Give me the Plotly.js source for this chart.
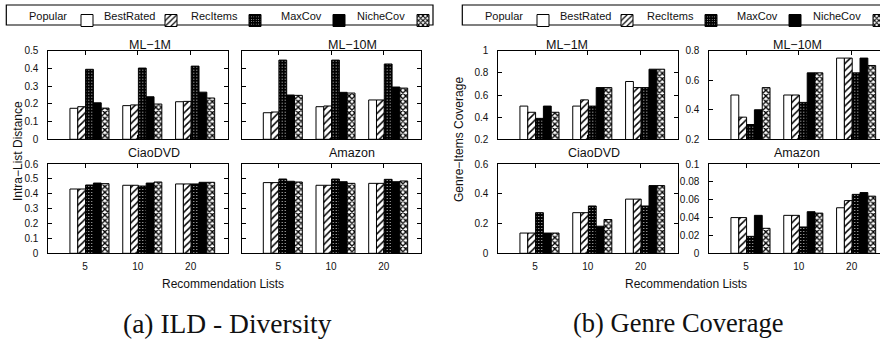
<!DOCTYPE html>
<html><head><meta charset="utf-8">
<script src="https://cdn.plot.ly/plotly-3.0.1.min.js"></script>
<style>html,body{margin:0;padding:0;overflow:hidden;background:#fff;width:880px;height:339px}</style>
</head><body><div id="chart"></div>
<script>
// ---------- data ----------
const listSizes = ['5', '10', '20'];
const methods = ['Popular', 'BestRated', 'RecItems', 'MaxCov', 'NicheCov'];

// (a) Intra-List Distance, rows = methods, cols = list sizes
const ildML1M = [
  [0.175, 0.190, 0.212],
  [0.184, 0.194, 0.214],
  [0.395, 0.402, 0.413],
  [0.206, 0.240, 0.266],
  [0.176, 0.199, 0.233]
];
const ildML10M = [
  [0.150, 0.184, 0.222],
  [0.154, 0.188, 0.222],
  [0.447, 0.447, 0.425],
  [0.250, 0.265, 0.295],
  [0.248, 0.261, 0.289]
];
const ildCiao = [
  [0.432, 0.457, 0.466],
  [0.432, 0.457, 0.466],
  [0.459, 0.452, 0.466],
  [0.472, 0.472, 0.477],
  [0.468, 0.479, 0.477]
];
const ildAmazon = [
  [0.475, 0.457, 0.470],
  [0.475, 0.457, 0.470],
  [0.499, 0.499, 0.497],
  [0.484, 0.481, 0.481],
  [0.479, 0.470, 0.486]
];
// (b) Genre-Items Coverage
const gcML1M = [
  [0.500, 0.500, 0.722],
  [0.444, 0.556, 0.667],
  [0.389, 0.500, 0.667],
  [0.500, 0.667, 0.833],
  [0.444, 0.667, 0.833]
];
const gcML10M = [
  [0.50, 0.50, 0.75],
  [0.35, 0.50, 0.75],
  [0.30, 0.45, 0.65],
  [0.40, 0.65, 0.75],
  [0.55, 0.65, 0.70]
];
const gcCiao = [
  [0.136, 0.273, 0.364],
  [0.136, 0.273, 0.364],
  [0.273, 0.318, 0.318],
  [0.136, 0.182, 0.455],
  [0.136, 0.227, 0.455]
];
const gcAmazon = [
  [0.040, 0.0425, 0.051],
  [0.040, 0.0425, 0.059],
  [0.019, 0.0295, 0.066],
  [0.0425, 0.0466, 0.068],
  [0.028, 0.045, 0.064]
];

// ---------- layout helpers ----------
const W = 960, H = 339;
const X = v => v / W;
const Y = v => 1 - v / H;
const FONT = 'Liberation Sans, Arial, Helvetica, sans-serif';

const COLS = { a: [[48.3, 227.7], [241.7, 420.7]], b: [[498.3, 677.7], [709.3, 888.7]] };
const ROWS = [[50.7, 139.3], [164, 253.3]];
const OFF = { a: 0, b: 456 };

const panels = [
  { key: 'a', legend: 'legend', ytitle: 'Intra−List Distance', ytx: 18, yty: 151, xtx: 223, cap: '(a) ILD - Diversity', capx: 227, capsize: 27.5,
    sets: [
      { title: 'ML−1M', data: ildML1M, col: 0, row: 0, range: [0, 0.5], dtick: 0.1, labels: true, tx: 150 },
      { title: 'ML−10M', data: ildML10M, col: 1, row: 0, range: [0, 0.5], dtick: 0.1, labels: false, tx: 352 },
      { title: 'CiaoDVD', data: ildCiao, col: 0, row: 1, range: [0, 0.6], dtick: 0.1, labels: true, tx: 154 },
      { title: 'Amazon', data: ildAmazon, col: 1, row: 1, range: [0, 0.6], dtick: 0.1, labels: false, tx: 352 }
    ] },
  { key: 'b', legend: 'legend2', ytitle: 'Genre−Items Coverage', ytx: 459, yty: 140, xtx: 686, cap: '(b) Genre Coverage', capx: 678, capsize: 26.5,
    sets: [
      { title: 'ML−1M', data: gcML1M, col: 0, row: 0, range: [0.2, 1], dtick: 0.2, labels: true, tx: 567 },
      { title: 'ML−10M', data: gcML10M, col: 1, row: 0, range: [0.2, 0.8], dtick: 0.2, labels: true, tx: 797 },
      { title: 'CiaoDVD', data: gcCiao, col: 0, row: 1, range: [0, 0.6], dtick: 0.2, labels: true, tx: 594 },
      { title: 'Amazon', data: gcAmazon, col: 1, row: 1, range: [0, 0.1], dtick: 0.02, labels: true, tx: 797 }
    ] }
];

function markerFor(mi) {
  const line = { color: 'black', width: 1 };
  switch (mi) {
    case 0: return { color: 'white', line };
    case 1: return { color: 'white', line, pattern: { shape: '/', fgcolor: 'black', bgcolor: 'white', size: 5, solidity: 0.3 } };
    case 2: return { color: 'black', line, pattern: { shape: '.', fgcolor: 'white', bgcolor: 'black', size: 3, solidity: 0.1 } };
    case 3: return { color: 'black', line };
    default: return { color: 'white', line, pattern: { shape: 'x', fgcolor: 'black', bgcolor: 'white', size: 4, solidity: 0.55 } };
  }
}

const traces = [];
const layout = {
  width: W, height: H, margin: { l: 0, r: 0, t: 0, b: 0, pad: 0 },
  paper_bgcolor: 'white', plot_bgcolor: 'white',
  barmode: 'group', bargap: 0.26, bargroupgap: 0,
  font: { family: FONT, size: 10, color: '#111' },
  hovermode: false, annotations: [], shapes: []
};

const catPos = listSizes.map((_, i) => i);
let k = 0;
panels.forEach(p => {
  p.sets.forEach((s, si) => {
    k++;
    const sfx = k === 1 ? '' : String(k);
    const col = COLS[p.key][s.col], row = ROWS[s.row];
    layout['xaxis' + sfx] = {
      domain: [X(col[0]), X(col[1])], range: [-0.78, 2.617], anchor: 'y' + sfx,
      tickmode: 'array', tickvals: catPos.map(i => i - 0.085), ticktext: listSizes,
      ticks: 'inside', ticklen: 4, tickcolor: 'black', tickwidth: 1,
      showline: true, linecolor: 'black', linewidth: 1, mirror: 'ticks',
      showgrid: false, zeroline: false, showticklabels: s.row === 1,
      tickfont: { size: 10, family: FONT, color: '#111' }, ticklabelstandoff: 4, fixedrange: true
    };
    layout['yaxis' + sfx] = {
      domain: [Y(row[1]), Y(row[0])], range: s.range, dtick: s.dtick, tick0: 0, anchor: 'x' + sfx,
      ticks: 'inside', ticklen: 4, tickcolor: 'black', tickwidth: 1,
      showline: true, linecolor: 'black', linewidth: 1, mirror: 'ticks',
      showgrid: false, zeroline: false, showticklabels: s.labels,
      tickfont: { size: 10, family: FONT, color: '#111' }, ticklabelstandoff: 7, fixedrange: true
    };
    methods.forEach((m, mi) => {
      traces.push({
        type: 'bar', x: catPos, y: s.data[mi], name: ' ',
        xaxis: 'x' + sfx, yaxis: 'y' + sfx, legend: p.legend, showlegend: si === 0,
        marker: markerFor(mi), hoverinfo: 'skip'
      });
    });
    layout.annotations.push({
      xref: 'paper', yref: 'paper', x: X(s.tx), y: Y(s.row === 0 ? 45 : 152.5),
      xanchor: 'center', yanchor: 'middle', text: s.title, showarrow: false,
      font: { size: 12.5, family: FONT, color: '#111' }
    });
  });

  const o = OFF[p.key];
  layout.shapes.push({ type: 'rect', xref: 'paper', yref: 'paper',
    x0: X(8.3 + o - 2), x1: X(433 + o), y0: Y(25), y1: Y(5), line: { color: 'black', width: 1.2 } });
  const textRight = [69, 157, 240, 323.5, 407];
  methods.forEach((m, mi) => {
    layout.annotations.push({
      xref: 'paper', yref: 'paper', x: X(textRight[mi] + o), y: Y(15.5),
      xanchor: 'right', yanchor: 'middle', text: m, showarrow: false,
      font: { size: 11, family: FONT, color: '#111' }
    });
  });
  layout[p.legend] = {
    orientation: 'h', x: X(67 + o), xanchor: 'left', y: Y(6), yanchor: 'top',
    bgcolor: 'rgba(0,0,0,0)', borderwidth: 0, entrywidth: 39, entrywidthmode: 'pixels',
    font: { size: 11, family: FONT }, traceorder: 'normal', itemclick: false, itemdoubleclick: false
  };
  layout.annotations.push({
    xref: 'paper', yref: 'paper', x: X(p.ytx), y: Y(p.yty), xanchor: 'center', yanchor: 'middle',
    text: p.ytitle, textangle: -90, showarrow: false, font: { size: 12, family: FONT, color: '#111' }
  });
  layout.annotations.push({
    xref: 'paper', yref: 'paper', x: X(p.xtx), y: Y(284), xanchor: 'center', yanchor: 'middle',
    text: 'Recommendation Lists', showarrow: false, font: { size: 12, family: FONT, color: '#111' }
  });
  layout.annotations.push({
    xref: 'paper', yref: 'paper', x: X(p.capx), y: Y(323), xanchor: 'center', yanchor: 'middle',
    text: p.cap, showarrow: false, font: { size: p.capsize, family: 'Liberation Serif, Times New Roman, serif', color: '#111' }
  });
});

Plotly.newPlot('chart', traces, layout, { displayModeBar: false, staticPlot: true });
</script>
</body></html>
